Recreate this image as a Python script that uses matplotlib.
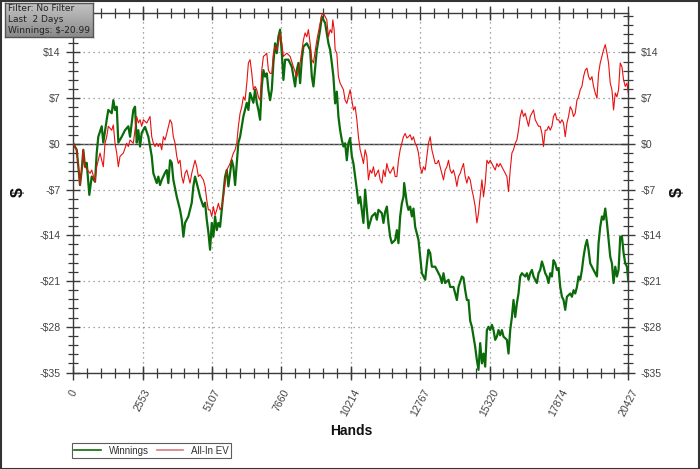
import numpy as np
import matplotlib
matplotlib.use("Agg")
import matplotlib.pyplot as plt
from matplotlib.patches import Rectangle
from matplotlib.ticker import FixedLocator, MultipleLocator

# ---------------- data ----------------
x_ticks = [0, 2553, 5107, 7660, 10214, 12767, 15320, 17874, 20427]
x_tick_labels = ["0", "2553", "5107", "7660", "10214", "12767", "15320", "17874", "20427"]
y_ticks = [-35, -28, -21, -14, -7, 0, 7, 14]
y_tick_labels = ["-$35", "-$28", "-$21", "-$14", "-$7", "$0", "$7", "$14"]

win_hands = [0, 122, 180, 243, 306, 365, 427, 490, 586, 674, 796, 858, 917, 1042, 1101, 1226, 1285, 1411,
             1470, 1532, 1595, 1654, 1779, 1900, 2022, 2085, 2206, 2269, 2331, 2390, 2453, 2515, 2637, 2759,
             2884, 2943, 3068, 3127, 3189, 3252, 3374, 3436, 3495, 3558, 3620, 3679, 3805, 3926, 3989, 4048,
             4110, 4232, 4357, 4416, 4478, 4541, 4663, 4784, 4847, 4909, 4968, 5031, 5094, 5153, 5215, 5278,
             5337, 5399, 5462, 5584, 5646, 5705, 5830, 5889, 5952, 6014, 6073, 6136, 6198, 6257, 6383, 6442,
             6504, 6626, 6688, 6751, 6810, 6872, 6935, 6994, 7057, 7119, 7178, 7241, 7303, 7362, 7425, 7487,
             7546, 7609, 7672, 7731, 7793, 7915, 8040, 8161, 8224, 8283, 8346, 8408, 8467, 8592, 8714, 8777,
             8836, 8961, 9082, 9145, 9267, 9388, 9451, 9513, 9572, 9635, 9697, 9756, 9819, 9881, 9940, 10003,
             10065, 10124, 10187, 10250, 10309, 10371, 10434, 10493, 10556, 10618, 10677, 10740, 10802, 10861,
             10986, 11108, 11170, 11229, 11355, 11414, 11476, 11539, 11598, 11660, 11723, 11845, 11907, 11966,
             12029, 12091, 12150, 12176, 12275, 12334, 12397, 12460, 12519, 12581, 12644, 12703, 12765, 12828,
             12950, 13012, 13071, 13134, 13196, 13318, 13380, 13502, 13565, 13624, 13686, 13808, 13870, 13992,
             14117, 14176, 14301, 14360, 14423, 14485, 14544, 14607, 14669, 14728, 14791, 14853, 14912, 14975,
             15038, 15097, 15159, 15222, 15281, 15343, 15406, 15465, 15527, 15590, 15649, 15711, 15774, 15833,
             15958, 16017, 16080, 16142, 16201, 16264, 16326, 16385, 16448, 16511, 16632, 16695, 16754, 16817,
             16879, 16938, 17063, 17122, 17185, 17247, 17306, 17369, 17431, 17490, 17553, 17615, 17674, 17737,
             17800, 17859, 17921, 17984, 18043, 18105, 18168, 18290, 18352, 18411, 18474, 18536, 18595, 18658,
             18720, 18779, 18842, 18905, 18964, 19026, 19089, 19148, 19210, 19273, 19332, 19394, 19457, 19516,
             19579, 19641, 19700, 19763, 19825, 19884, 19947, 20009, 20068, 20131, 20194, 20253, 20315, 20378,
             20427]
win_vals = [0.0, -0.9, -3.4, -6.3, -4.0, -0.9, -3.5, -2.9, -7.8, -5.0, -5.8, -1.4, 1.1, 2.7, 0.2, 3.7, 5.2, 4.7,
            6.7, 5.2, 5.7, 0.2, 1.1, 2.1, 2.7, 1.1, 5.2, 5.7, 0.2, 2.1, -0.4, 1.7, 2.6, 1.1,
            -1.9, -4.5, -6.0, -5.0, -6.3, -5.5, -4.4, -4.0, -6.0, -2.5, -2.9, -5.5, -8.1, -10.1, -11.6, -14.2,
            -12.1, -11.1, -9.0, -6.5, -5.0, -6.0, -8.1, -9.6, -9.0, -11.6, -13.5, -16.2, -12.1, -14.2, -11.1, -13.2,
            -12.1, -12.7, -10.1, -5.0, -4.0, -6.5, -2.5, -3.5, -6.3, -3.0, 0.2, 1.1, 2.7, 4.2, 6.3, 5.2,
            7.8, 6.3, 8.3, 6.3, 5.2, 3.7, 8.8, 11.3, 10.3, 10.8, 8.3, 6.7, 8.3, 12.4, 15.4, 13.9,
            16.4, 17.5, 13.9, 9.8, 12.9, 12.9, 11.8, 8.8, 11.3, 12.4, 9.3, 12.9, 14.9, 15.4, 14.4, 10.3,
            8.8, 14.4, 17.5, 19.5, 18.5, 15.4, 14.4, 12.4, 10.3, 6.2, 8.0, 4.2, 2.1, 0.6, -0.4, 0.1,
            -2.5, 0.1, 0.9, -1.9, -3.0, -5.0, -7.0, -9.1, -8.1, -10.1, -12.1, -7.0, -10.1, -12.9,
            -11.1, -10.6, -11.6, -10.1, -10.6, -12.1, -10.4, -9.6, -12.1, -14.2, -15.2, -14.7, -13.2, -15.2,
            -11.1, -9.1, -8.1, -6.0, -9.1, -10.1, -9.6, -11.1, -9.9, -12.7, -13.7, -14.7, -17.3, -19.8,
            -20.8, -18.3, -16.2, -16.7, -18.8, -18.8, -19.3, -20.3, -21.3, -19.8, -21.3, -20.8, -21.9, -21.9,
            -23.9, -21.9, -20.3, -20.5, -22.4, -23.9, -23.9, -27.1, -28.0, -29.5, -31.1, -33.1, -34.6, -30.5,
            -33.6, -32.1, -34.1, -28.5, -28.0, -28.5, -27.7, -28.5, -30.0, -29.5, -28.5, -29.3, -28.5, -29.5,
            -30.0, -32.1, -28.5, -26.5, -23.9, -26.5, -24.4, -22.9, -20.3, -19.8, -20.3, -19.8, -20.8, -19.8,
            -19.3, -20.3, -21.3, -19.8, -19.3, -18.0, -18.8, -19.8, -20.3, -21.3, -19.8, -20.3, -17.8, -18.3,
            -19.3, -19.0, -21.9, -23.4, -23.9, -25.4, -23.4, -22.9, -23.4, -22.4, -22.9, -21.9, -20.3, -20.8,
            -19.3, -17.3, -15.7, -14.7, -16.2, -18.3, -18.8, -19.3, -19.8, -20.3, -15.2, -12.7, -11.1, -11.6,
            -9.9, -12.1, -14.7, -17.3, -18.3, -21.3, -18.8, -20.3, -19.3, -14.2, -14.2, -16.7, -18.3, -18.8,
            -20.99]

ev_hands = [0, 122, 180, 243, 306, 365, 427, 611, 674, 796, 858, 980, 1101, 1164, 1226, 1285, 1411, 1470,
            1532, 1595, 1654, 1716, 1838, 1963, 2022, 2085, 2206, 2331, 2390, 2453, 2515, 2574, 2700, 2759,
            2821, 2884, 2943, 3005, 3068, 3127, 3189, 3252, 3311, 3374, 3436, 3558, 3620, 3679, 3742, 3805,
            3863, 3926, 3989, 4048, 4110, 4173, 4232, 4294, 4357, 4478, 4541, 4600, 4663, 4784, 4847, 4909,
            4968, 5031, 5094, 5153, 5215, 5278, 5337, 5399, 5462, 5521, 5584, 5646, 5768, 5889, 5952, 6014,
            6073, 6136, 6198, 6257, 6320, 6383, 6442, 6504, 6567, 6626, 6688, 6751, 6810, 6872, 6935, 6994,
            7057, 7119, 7178, 7241, 7303, 7362, 7425, 7487, 7546, 7609, 7672, 7731, 7856, 7977, 8099, 8224,
            8346, 8467, 8530, 8592, 8651, 8714, 8777, 8836, 8961, 9082, 9145, 9204, 9329, 9388, 9451, 9513,
            9550, 9598, 9635, 9697, 9756, 9819, 9881, 9940, 10003, 10065, 10124, 10187, 10250, 10309, 10371,
            10434, 10493, 10556, 10618, 10677, 10740, 10802, 10861, 10924, 10986, 11045, 11108, 11170, 11229,
            11292, 11355, 11414, 11476, 11539, 11598, 11660, 11723, 11782, 11845, 11907, 11966, 12029, 12091,
            12150, 12213, 12275, 12334, 12397, 12460, 12519, 12581, 12644, 12703, 12765, 12828, 12887, 12950,
            13012, 13071, 13134, 13196, 13255, 13318, 13380, 13439, 13502, 13565, 13624, 13686, 13749, 13808,
            13870, 13933, 13992, 14055, 14117, 14176, 14239, 14301, 14360, 14423, 14485, 14544, 14607, 14669,
            14728, 14791, 14853, 14912, 14975, 15038, 15097, 15159, 15222, 15281, 15343, 15406, 15465, 15527,
            15590, 15649, 15711, 15774, 15833, 15896, 15958, 16017, 16080, 16142, 16201, 16264, 16326, 16385,
            16448, 16511, 16570, 16632, 16695, 16754, 16817, 16879, 16938, 17001, 17063, 17122, 17185, 17247,
            17306, 17369, 17431, 17490, 17553, 17615, 17674, 17737, 17800, 17859, 17921, 17984, 18043, 18105,
            18168, 18227, 18290, 18352, 18411, 18474, 18536, 18595, 18658, 18720, 18779, 18842, 18905, 18964,
            19026, 19089, 19148, 19210, 19273, 19332, 19394, 19457, 19516, 19579, 19641, 19700, 19763, 19825,
            19884, 19947, 20009, 20068, 20131, 20194, 20253, 20315, 20378, 20427]
ev_vals = [0.0, -0.9, -3.4, -6.3, -4.0, -0.9, -3.5, -4.5, -4.0, -5.8, -3.5, -1.4, -3.5, 0.1, 1.1, 2.7, 2.1, 2.9,
           0.1, -1.4, -3.5, -1.9, -1.4, 0.1, -0.4, 0.6, 0.1, 4.2, 3.2, 3.7, 2.7, 3.7, 3.2, 3.7,
           4.2, 1.1, 0.1, -0.4, 0.1, -0.4, 0.1, -0.9, 1.1, 0.6, 1.6, 3.7, 3.2, 1.1, 0.1, -1.9,
           -3.0, -2.5, -5.0, -6.0, -4.5, -4.0, -5.0, -6.0, -4.5, -2.5, -3.5, -5.0, -4.7, -5.5, -6.5, -8.6,
           -10.1, -10.1, -11.1, -9.6, -10.9, -10.1, -9.1, -10.1, -9.6, -8.1, -6.0, -4.0, -3.0, -1.4, -0.9, 0.1,
           2.7, 4.7, 5.7, 7.2, 6.7, 9.3, 12.4, 12.9, 10.8, 8.3, 8.8, 8.3, 7.2, 6.7, 11.3, 13.4,
           13.6, 13.9, 11.3, 10.8, 10.8, 13.9, 14.9, 14.4, 15.4, 17.0, 15.4, 13.4, 13.9, 13.4, 11.8, 10.3,
           12.4, 15.9, 17.0, 16.4, 17.5, 15.4, 12.9, 12.4, 15.9, 18.5, 19.8, 20.0, 19.0, 16.4, 17.5, 17.0,
           19.0, 17.5, 14.4, 13.9, 10.3, 9.3, 8.8, 8.3, 6.7, 6.2, 7.2, 8.3, 6.7, 5.2, 5.7,
           3.7, 1.1, -0.9, -1.9, -3.0, -0.9, -1.9, -5.5, -4.0, -4.5, -3.5, -5.0, -4.5, -4.0,
           -5.5, -6.0, -4.0, -5.0, -3.0, -4.0, -4.5, -4.0, -3.5, -5.0, -5.0, -2.5, -0.9, 0.1,
           1.1, 1.6, 0.9, 1.1, 1.4, 0.6, 1.1, 0.1, -0.4, -1.4, -3.5, -4.5, -3.5, -4.0,
           -1.9, 0.1, 1.1, -0.9, -1.9, -3.0, -3.0, -2.5, -3.5, -4.5, -5.5, -4.0, -3.5, -2.5,
           -4.0, -4.5, -4.0, -5.0, -6.5, -5.0, -4.5, -3.7, -3.0, -5.0, -6.0, -5.0, -5.5, -7.0,
           -8.1, -9.6, -12.1, -10.6, -8.1, -5.5, -8.1, -6.0, -2.5, -3.0, -2.5, -3.0, -3.5, -4.0,
           -3.0, -3.5, -3.0, -3.5, -4.0, -4.5, -5.0, -7.3, -4.0, -1.4, -0.9, 0.1, 0.6, 2.1,
           4.2, 5.2, 4.2, 4.7, 3.7, 2.7, 4.2, 4.7, 5.2, 3.7, 3.2, 2.7, 2.7, 1.6,
           -0.4, 2.1, 2.1, 2.7, 2.1, 2.7, 4.2, 4.7, 3.7, 3.7, 3.2, 3.7, 3.2, 1.1,
           3.2, 4.2, 5.7, 5.2, 4.2, 4.7, 6.7, 7.2, 8.3, 8.8, 10.3, 11.3, 11.6, 10.3,
           9.8, 10.3, 8.8, 7.8, 7.0, 10.8, 12.4, 13.4, 14.4, 15.2, 13.9, 12.4, 9.3, 8.3,
           5.2, 7.8, 7.2, 8.3, 12.4, 11.8, 9.8, 8.8, 9.3, 7.8]

info_lines = ["Filter: No Filter", "Last  2 Days", "Winnings: $-20.99"]

# ---------------- figure ----------------
plt.rcParams['font.family'] = ['Liberation Sans', 'DejaVu Sans']
W, H = 700, 469
fig = plt.figure(figsize=(W / 100, H / 100), dpi=100)
fig.patch.set_facecolor('white')

ax = fig.add_axes([73.4 / W, 1 - 372.5 / H, (628.3 - 73.4) / W, (372.5 - 13.3) / H])
ax.set_xlim(0, 20427)
ax.set_ylim(-35, 20)

spine_col = '#3a3a3a'
for s in ax.spines.values():
    s.set_color(spine_col)
    s.set_linewidth(1.0)

ax.xaxis.set_major_locator(FixedLocator(x_ticks))
ax.xaxis.set_minor_locator(MultipleLocator(20427 / 40))
ax.yaxis.set_major_locator(FixedLocator(y_ticks))
ax.yaxis.set_minor_locator(MultipleLocator(1.4))
ax.set_xticklabels(x_tick_labels, rotation=62, ha='center', va='top')
ax.set_yticklabels(y_tick_labels)

ax.tick_params(axis='both', which='major', direction='inout', length=10, width=1.0,
               colors=spine_col, labelcolor='#444444', labelsize=7.6,
               left=True, right=True, top=True, bottom=True,
               labelleft=True, labelright=True)
ax.tick_params(axis='both', which='minor', direction='inout', length=7, width=0.9,
               colors=spine_col, left=True, right=True, top=True, bottom=True)
ax.tick_params(axis='x', which='major', pad=6)
ax.tick_params(axis='y', which='major', pad=4)

ax.grid(True, which='major', color='#888888', linestyle=(0, (1, 3)), linewidth=0.9)
ax.axhline(0, color='#404040', linewidth=1.0, zorder=1.5)

lw, = ax.plot(win_hands, win_vals, color='#0b6b0b', linewidth=1.6, label='Winnings', zorder=3)
le, = ax.plot(ev_hands, ev_vals, color='#e81010', linewidth=0.8, label='All-In EV', zorder=3.2)

ax.set_xlabel('Hands', fontsize=10, fontweight='bold', color='#111111', labelpad=4)

# side "$" labels
fig.text(18 / W, 1 - 192 / H, '$', rotation=90, fontsize=12.5, fontweight='bold',
         color='#111111', ha='center', va='center')
fig.text(677 / W, 1 - 192 / H, '$', rotation=90, fontsize=12.5, fontweight='bold',
         color='#111111', ha='center', va='center')

# legend
leg = fig.legend(handles=[lw, le], labels=['Winnings', 'All-In EV'], ncol=2,
                 loc='lower left', bbox_to_anchor=(72 / W, 1 - 458 / H),
                 fontsize=7.0, frameon=True, fancybox=False, handlelength=2.7,
                 borderpad=0.25, columnspacing=0.9, handletextpad=0.8, borderaxespad=0)
leg.get_frame().set_edgecolor('#333333')
leg.get_frame().set_linewidth(0.8)
for t in leg.get_texts():
    t.set_color('#333333')
for h in leg.legend_handles:
    h.set_linewidth(1.2)
leg.legend_handles[1].set_color('#d87a80')

# info box with gradient
bx0, by0, bx1, by1 = 5, 3, 93, 37
iax = fig.add_axes([bx0 / W, 1 - by1 / H, (bx1 - bx0) / W, (by1 - by0) / H])
grad = np.linspace(0, 1, 64).reshape(-1, 1)
iax.imshow(grad, aspect='auto',
           cmap=matplotlib.colors.LinearSegmentedColormap.from_list('g', ['#c4c4c4', '#8a8a8a']),
           extent=(0, 1, 0, 1), origin='upper')
iax.set_xlim(0, 1)
iax.set_ylim(0, 1)
iax.set_xticks([])
iax.set_yticks([])
for s in iax.spines.values():
    s.set_color('#555555')
    s.set_linewidth(1.0)
for i, line in enumerate(info_lines):
    iax.text(0.03, 0.83 - i * 0.32, line, fontsize=6.5, color='#222222', va='center', ha='left',
             family=['DejaVu Sans'])

# outer frame
fig.patches.append(Rectangle((0.5 / W, 0.5 / H), 1 - 1.5 / W, 1 - 1.5 / H, transform=fig.transFigure,
                             fill=False, edgecolor='#333333', linewidth=1.5))

fig.savefig('out.png', dpi=100)
